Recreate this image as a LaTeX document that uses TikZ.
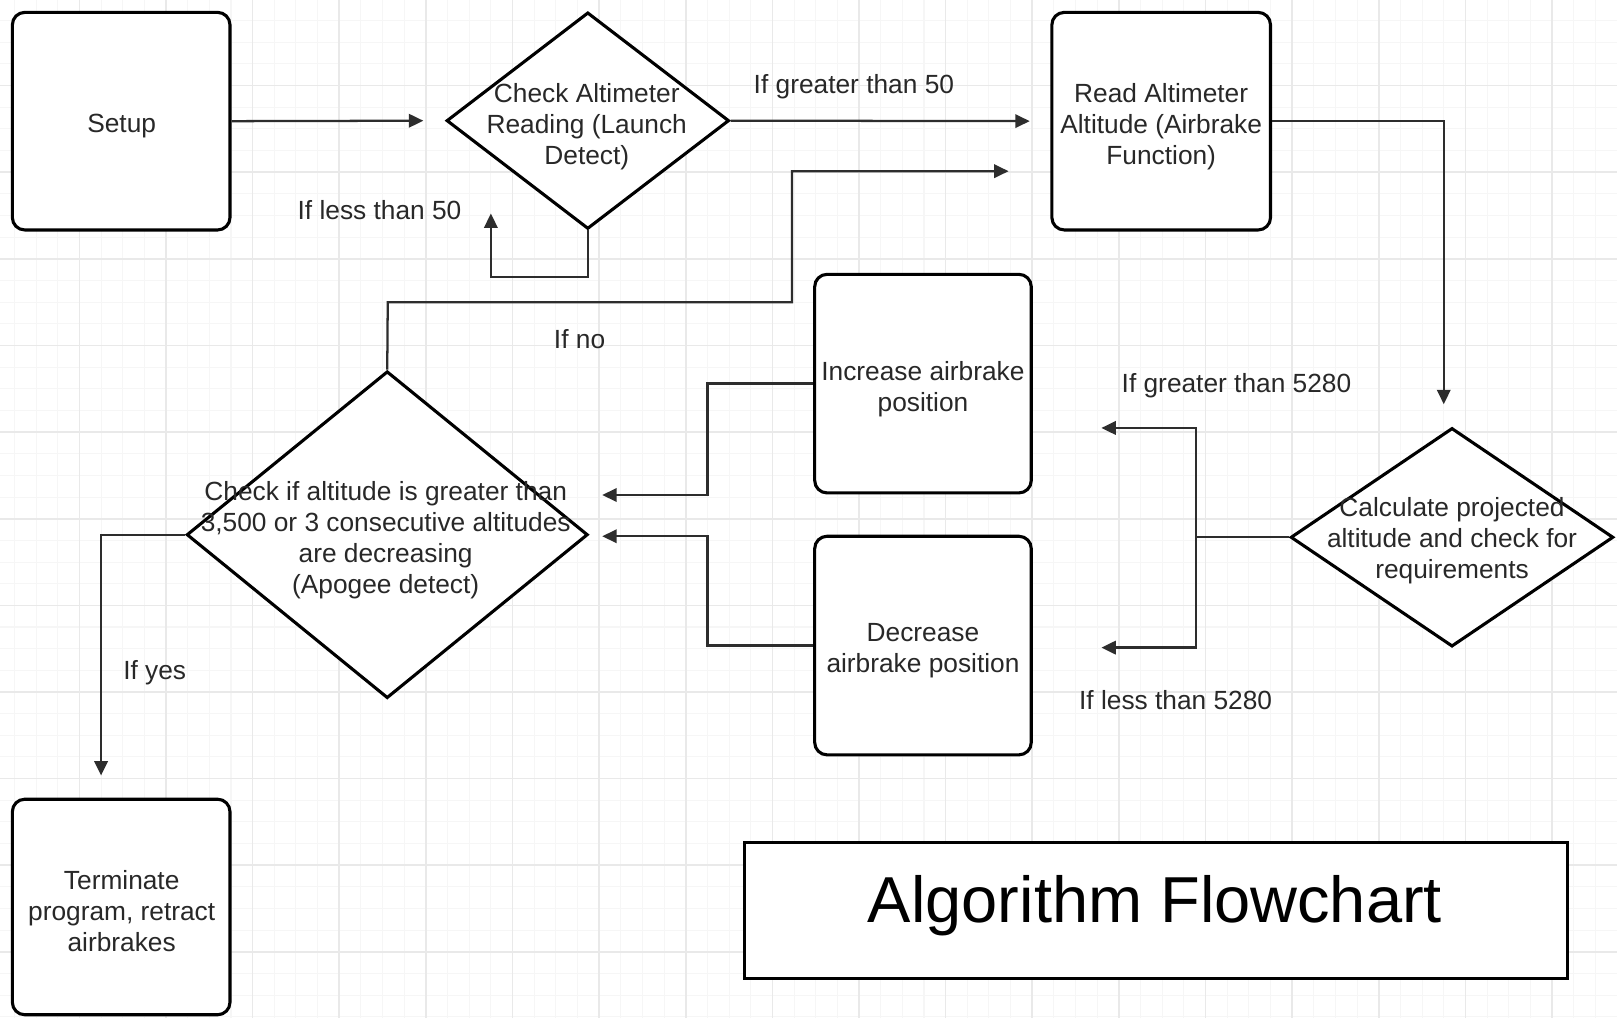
\documentclass[tikz,border=0pt]{standalone}
\usepackage{fontspec}
\setmainfont{Liberation Sans}
\usetikzlibrary{shapes.geometric,arrows.meta}
\definecolor{txt}{RGB}{40,40,40}
\definecolor{conn}{RGB}{45,45,45}
\definecolor{minorg}{RGB}{246,246,246}
\definecolor{majorg}{RGB}{233,233,233}
\begin{document}
\begin{tikzpicture}[x=1pt,y=-1pt,
  box/.style={draw=black,line width=3pt,rounded corners=12pt,fill=white,inner sep=0pt},
  dia/.style={draw=black,line width=3pt,diamond,fill=white,inner sep=0pt},
  dtext/.style={align=center,text=txt,inner sep=0pt,font=\fontsize{25.5}{30}\selectfont},
  lbl/.style={text=txt,inner sep=0pt,font=\fontsize{25.5}{30}\selectfont},
  conn/.style={draw=conn,line width=2.2pt,-{Triangle[length=14pt,width=13pt]}},
  plain/.style={draw=conn,line width=2.2pt},
  minorgrid/.style={draw=minorg,line width=1pt},
  majorgrid/.style={draw=majorg,line width=1.6pt}]
\useasboundingbox (0,0) rectangle (1568,987);
\fill[white] (0,0) rectangle (1568,987);
% grid
\foreach \i in {0,...,74} {\draw[minorgrid] ({14+21*\i},0) -- ({14+21*\i},987);}
\foreach \i in {0,...,46} {\draw[minorgrid] (0,{20+21*\i}) -- (1568,{20+21*\i});}
\foreach \i in {0,...,18} {\draw[majorgrid] ({77+84*\i},0) -- ({77+84*\i},987);}
\foreach \i in {0,...,11} {\draw[majorgrid] (0,{-1+84*\i}) -- (1568,{-1+84*\i});}

% shapes
\node[box,minimum width=211pt,minimum height=211pt] (setup) at (117.5,117.5) {};
\node[dia,minimum width=274pt,minimum height=210pt] (d1) at (570,117) {};
\node[box,minimum width=212pt,minimum height=211pt] (read) at (1126,117.5) {};
\node[dia,minimum width=313pt,minimum height=212pt] (calc) at (1408,521) {};
\node[box,minimum width=210pt,minimum height=212pt] (inc) at (895,372) {};
\node[box,minimum width=210pt,minimum height=212pt] (dec) at (895,626) {};
\node[dia,minimum width=389pt,minimum height=317pt] (d2) at (375.5,518.5) {};
\node[box,minimum width=211pt,minimum height=209pt] (term) at (117.5,879.5) {};
\node[draw=black,line width=3pt,fill=white,minimum width=798pt,minimum height=132pt,inner sep=0pt] (title) at (1121,883) {};

% texts
\node[dtext] (setupt) at (118,122.5) {Setup};
\node[dtext] (d1t) at (569,123) {Check Altimeter\\Reading (Launch\\Detect)};
\node[dtext] (readt) at (1126,122.5) {Read Altimeter\\Altitude (Airbrake\\Function)};
\node[dtext] (calct) at (1408,524.5) {Calculate projected\\altitude and check for\\requirements};
\node[dtext] (inct) at (895,377) {Increase airbrake\\position};
\node[dtext] (dect) at (895,631) {Decrease\\airbrake position};
\node[dtext] (d2t) at (374,524) {Check if altitude is greater than\\3,500 or 3 consecutive altitudes\\are decreasing\\(Apogee detect)};
\node[dtext] (termt) at (118,883.5) {Terminate\\program, retract\\airbrakes};
\node[anchor=base,inner sep=0pt,font=\fontsize{63}{70}\selectfont,text=black] (titlet) at (1120,895) {Algorithm Flowchart};

% coordinates for free ends
\coordinate (looptip) at (476,207);
\coordinate (readtip) at (1400,392);
\coordinate (junc) at (1160,521);
\coordinate (gtip) at (1068,415);
\coordinate (ltip) at (1068,628);
\coordinate (itip) at (584,480);
\coordinate (dtip) at (584,520);
\coordinate (notip) at (978,166);
\coordinate (yestip) at (98,752);

% connectors
\draw[conn,shorten >=21pt] (setup.east) -- (d1.west);
\draw[conn,shorten >=20pt] (d1.east) -- (read.west);
\draw[conn] (d1.south) -- ++(0,45) -| (looptip);
\draw[conn] (read.east) -| (readtip);
\draw[plain] (calc.west) -- (junc);
\draw[conn] (junc) |- (gtip);
\draw[conn] (junc) |- (ltip);
\draw[conn] (inc.west) -| (686,480) -- (itip);
\draw[conn] (dec.west) -| (686,520) -- (dtip);
\draw[conn] (d2.north) -- (376,293) -| (768,166) -- (notip);
\draw[conn] (d2.west) -| (yestip);

% labels
\node[lbl] (l1) at (828,84) {If greater than 50};
\node[lbl] (l2) at (368,204) {If less than 50};
\node[lbl] (l3) at (562,329) {If no};
\node[lbl] (l4) at (1199,374) {If greater than 5280};
\node[lbl] (l5) at (1140,679) {If less than 5280};
\node[lbl] (l6) at (150,652) {If yes};
\end{tikzpicture}
\end{document}
